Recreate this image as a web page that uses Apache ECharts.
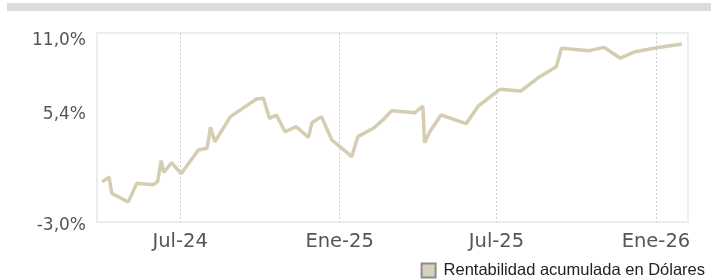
<!DOCTYPE html>
<html>
<head>
<meta charset="utf-8">
<script src="https://cdn.jsdelivr.net/npm/echarts@6/dist/echarts.min.js"></script>
<style>
  html, body { margin: 0; padding: 0; background: #fff; }
  #chart { width: 711px; height: 280px; }
</style>
</head>
<body>
<div id="chart"></div>
<script>
const serieName = 'Rentabilidad acumulada en Dólares'

const fechas = ['2024-04-02','2024-04-10','2024-04-13','2024-05-02','2024-05-12','2024-05-31','2024-06-05','2024-06-09','2024-06-12','2024-06-21',
  '2024-07-02','2024-07-22','2024-08-01','2024-08-05','2024-08-10','2024-08-28','2024-09-27','2024-10-05','2024-10-12','2024-10-20',
  '2024-10-30','2024-11-12','2024-11-26','2024-11-30','2024-12-11','2024-12-23','2025-01-15','2025-01-22','2025-02-09','2025-02-20',
  '2025-03-02','2025-03-29','2025-04-07','2025-04-09','2025-04-15','2025-04-28','2025-05-27','2025-06-10','2025-07-05','2025-07-29',
  '2025-08-20','2025-09-08','2025-09-14','2025-10-16','2025-11-02','2025-11-21','2025-12-08','2026-01-02','2026-01-31']

const rentabilidad = [0.04, 0.37, -0.84, -1.49, -0.08, -0.19, 0.05, 1.63, 0.73, 1.47,
  0.64, 2.43, 2.55, 4.14, 3.05, 4.94, 6.27, 6.32, 4.81, 5.06,
  3.80, 4.18, 3.38, 4.48, 4.94, 3.18, 1.92, 3.43, 4.06, 4.69,
  5.39, 5.24, 5.74, 2.98, 3.80, 5.06, 4.41, 5.74, 7.00, 6.87,
  7.95, 8.70, 10.09, 9.91, 10.16, 9.34, 9.83, 10.13, 10.41]

const yTicks = [-3, 5.4, 11]
const xTickDates = ['2024-07-01', '2025-01-01', '2025-07-01', '2026-01-01']
const xTickLabels = ['Jul-24', 'Ene-25', 'Jul-25', 'Ene-26']

const toTime = (s) => echarts.number.parseDate(s).getTime()
const xTickTimes = xTickDates.map(toTime)

let myChart = echarts.init(document.getElementById('chart'))
let option = {
  animation: false,
  graphic: [
    {
      type: 'rect',
      left: 7,
      top: 3,
      shape: { width: 704, height: 8 },
      style: { fill: '#dcdcdc' }
    }
  ],
  grid: {
    show: true,
    left: 97,
    right: 23,
    top: 33,
    bottom: 58,
    borderColor: '#ededed',
    borderWidth: 2
  },
  legend: {
    data: [serieName],
    right: 1,
    top: 257,
    icon: 'rect',
    itemWidth: 14,
    itemHeight: 14,
    itemStyle: { borderColor: '#8c8c8c', borderWidth: 2 },
    textStyle: {
      fontFamily: 'Liberation Sans',
      fontSize: 16.5,
      color: '#222',
      padding: [0, 0, 0, 3]
    }
  },
  xAxis: {
    // fechas como marcas de tiempo sobre un eje numérico
    type: 'value',
    min: toTime('2024-03-27'),
    max: toTime('2026-02-07'),
    axisLine: { show: false },
    axisTick: { show: false, customValues: xTickTimes },
    axisLabel: {
      customValues: xTickTimes,
      margin: 10,
      fontFamily: 'DejaVu Sans',
      fontSize: 19.5,
      color: '#555',
      formatter: (v) => {
        const i = xTickTimes.indexOf(v)
        return i >= 0 ? xTickLabels[i] : ''
      }
    },
    splitLine: {
      show: true,
      lineStyle: { color: '#cfcfcf', type: [2, 2], width: 1 }
    }
  },
  yAxis: {
    type: 'value',
    min: -3,
    max: 11.24,
    axisLine: { show: false },
    axisTick: { show: false },
    splitLine: { show: false },
    axisLabel: {
      customValues: yTicks,
      margin: 11,
      verticalAlign: 'top',
      lineHeight: 8,
      fontFamily: 'DejaVu Sans',
      fontSize: 17,
      color: '#555',
      formatter: (v) => v.toFixed(1).replace('.', ',') + '%'
    }
  },
  series: [
    {
      name: serieName,
      type: 'line',
      symbol: 'none',
      data: fechas.map((d, i) => [toTime(d), rentabilidad[i]]),
      itemStyle: { color: '#d9d2ba' },
      lineStyle: { color: '#d5cdb2', width: 3.5 }
    }
  ]
}
myChart.setOption(option)
</script>
</body>
</html>
